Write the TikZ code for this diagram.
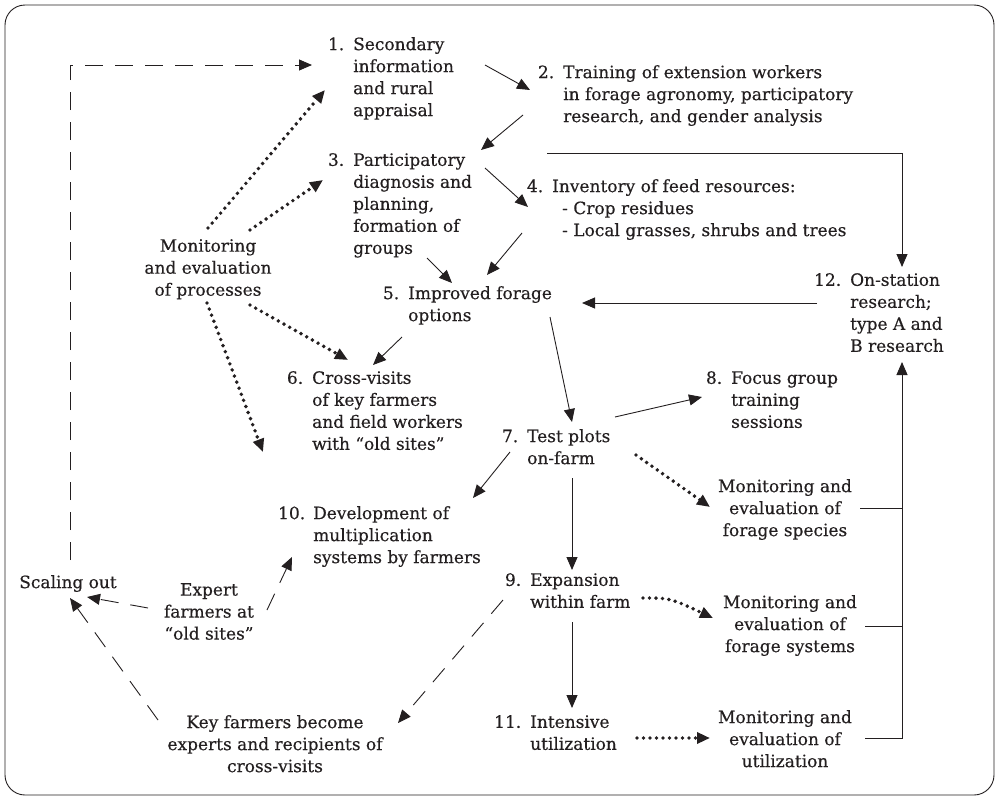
\documentclass[tikz,border=0pt]{standalone}
\usepackage{fontspec}
\setmainfont[FakeBold=0.4]{DejaVu Serif}
\usetikzlibrary{arrows.meta}
\definecolor{ink}{HTML}{231F20}
\begin{document}
\begin{tikzpicture}[x=1pt,y=-1pt,
 every node/.style={font=\fontsize{17}{22}\selectfont, text=ink, inner sep=0pt},
 txt/.style={anchor=north west, align=left},
 ctxt/.style={anchor=north, align=center},
 arr/.style={draw=ink, line width=0.9pt, -{Triangle[length=13pt,width=11pt]}},
 plain/.style={draw=ink, line width=0.9pt},
 dotarr/.style={draw=ink, line width=3.9pt, line cap=round, dash pattern=on 0pt off 6.5pt, -{Triangle[length=13pt,width=11pt]}},
 dasharr/.style={draw=ink, line width=0.9pt, dash pattern=on 18pt off 12pt, -{Triangle[length=13pt,width=11pt]}},
]
\useasboundingbox (0,0) rectangle (997,798);
\draw[ink, line width=0.9pt, rounded corners=20pt] (5,5) rectangle (994,795);

% numbered items
\node[txt] (n1) at (353,37) {\llap{1.\hspace{9pt}}Secondary\\information\\and rural\\appraisal};
\node[txt] (n2) at (563,65) {\llap{2.\hspace{9pt}}Training of extension workers\\in forage agronomy, participatory\\research, and gender analysis};
\node[txt] (n3) at (353,153) {\llap{3.\hspace{9pt}}Participatory\\diagnosis and\\planning,\\formation of\\groups};
\node[txt] (n4) at (552,179) {\llap{4.\hspace{9pt}}Inventory of feed resources:\\\hspace{10pt}- Crop residues\\\hspace{10pt}- Local grasses, shrubs and trees};
\node[txt] (n5) at (408,286) {\llap{5.\hspace{9pt}}Improved forage\\options};
\node[txt] (n6) at (312,371) {\llap{6.\hspace{9pt}}Cross-visits\\of key farmers\\and field workers\\with “old sites”};
\node[txt] (n7) at (527,429) {\llap{7.\hspace{9pt}}Test plots\\on-farm};
\node[txt] (n8) at (731,371) {\llap{8.\hspace{9pt}}Focus group\\training\\sessions};
\node[txt] (n12) at (850,273) {\llap{12.\hspace{9pt}}On-station\\research;\\type A and\\B research};
\node[txt] (n10) at (313,506) {\llap{10.\hspace{8pt}}Development of\\multiplication\\systems by farmers};
\node[txt] (n9) at (530,573) {\llap{9.\hspace{9pt}}Expansion\\within farm};
\node[txt] (n11) at (530,715) {\llap{11.\hspace{9pt}}Intensive\\utilization};

% centred texts
\node[ctxt] (mes) at (785,479) {Monitoring and\\evaluation of\\forage species};
\node[ctxt] (mfs) at (790,595) {Monitoring and\\evaluation of\\forage systems};
\node[ctxt] (mu) at (785,710) {Monitoring and\\evaluation of\\utilization};
\node[ctxt] (mp) at (208,239) {Monitoring\\and evaluation\\of processes};
\node[ctxt] (so) at (68,575) {Scaling out};
\node[ctxt] (ef) at (209,583) {Expert\\farmers at\\“old sites”};
\node[ctxt] (kf) at (275,715) {Key farmers become\\experts and recipients of\\cross-visits};

% connector end points
\coordinate (a1) at (485,65);  \coordinate (b2) at (530,90);
\coordinate (a2) at (523,115); \coordinate (b3) at (481,150);
\coordinate (a3) at (485,168); \coordinate (b4) at (528,207);
\coordinate (a4) at (522,233); \coordinate (b5r) at (487,275);
\coordinate (a3g) at (427,258); \coordinate (b5l) at (452,283);
\coordinate (a3r) at (547,153); \coordinate (b12) at (902,267);
\coordinate (a12) at (817,303); \coordinate (b5e) at (582,303);
\coordinate (a5) at (402,337); \coordinate (b6) at (373,365);
\coordinate (a5b) at (550,317); \coordinate (b7) at (572,422);
\coordinate (a7) at (615,417); \coordinate (b8) at (702,397);
\coordinate (a7l) at (510,452); \coordinate (b10) at (473,498);
\coordinate (a7d) at (572,478); \coordinate (b9) at (572,570);
\coordinate (a9d) at (572,622); \coordinate (b11) at (572,708);
\coordinate (ames) at (860,508); \coordinate (amfs) at (865,626); \coordinate (amu) at (865,738);
\coordinate (j1) at (902,508); \coordinate (j2) at (902,626); \coordinate (j3) at (902,738);
\coordinate (b12b) at (902,362);

\coordinate (mp1) at (208,228); \coordinate (d1) at (325,90);
\coordinate (mp2) at (250,230); \coordinate (d3) at (323,180);
\coordinate (mp3) at (250,305); \coordinate (d6) at (348,360);
\coordinate (mp4) at (207,303); \coordinate (d0) at (263,452);
\coordinate (a7r) at (636,455); \coordinate (dmes) at (710,507);
\coordinate (a9r) at (643,598); \coordinate (dmfs) at (713,618);
\coordinate (a11r) at (637,738); \coordinate (dmu) at (710,738);

\coordinate (sotop) at (70,560); \coordinate (e1) at (312,65);
\coordinate (ef1) at (267,610); \coordinate (e10) at (292,557);
\coordinate (ef2) at (148,608); \coordinate (eso1) at (87,597);
\coordinate (kf1) at (158,720); \coordinate (eso2) at (70,598);
\coordinate (a9l) at (503,600); \coordinate (ekf) at (398,723);

% solid arrows
\draw[arr] (a1) -- (b2);
\draw[arr] (a2) -- (b3);
\draw[arr] (a3) -- (b4);
\draw[arr] (a4) -- (b5r);
\draw[arr] (a3g) -- (b5l);
\draw[arr] (a3r) -| (b12);
\draw[arr] (a12) -- (b5e);
\draw[arr] (a5) -- (b6);
\draw[arr] (a5b) -- (b7);
\draw[arr] (a7) -- (b8);
\draw[arr] (a7l) -- (b10);
\draw[arr] (a7d) -- (b9);
\draw[arr] (a9d) -- (b11);
\draw[plain] (ames) -- (j1);
\draw[plain] (amfs) -- (j2);
\draw[arr] (amu) -- (j3) -- (b12b);

% dotted arrows
\draw[dotarr] (mp1) -- (d1);
\draw[dotarr] (mp2) -- (d3);
\draw[dotarr] (mp3) -- (d6);
\draw[dotarr] (mp4) -- (d0);
\draw[dotarr] (a7r) -- (dmes);
\draw[dotarr] (a9r) .. controls (670,598) .. (dmfs);
\draw[dotarr] (a11r) -- (dmu);

% dashed arrows
\draw[dasharr] (sotop) |- (e1);
\draw[dasharr] (ef1) -- (e10);
\draw[dasharr] (ef2) -- (eso1);
\draw[dasharr] (kf1) -- (eso2);
\draw[dasharr] (a9l) -- (ekf);
\end{tikzpicture}
\end{document}
